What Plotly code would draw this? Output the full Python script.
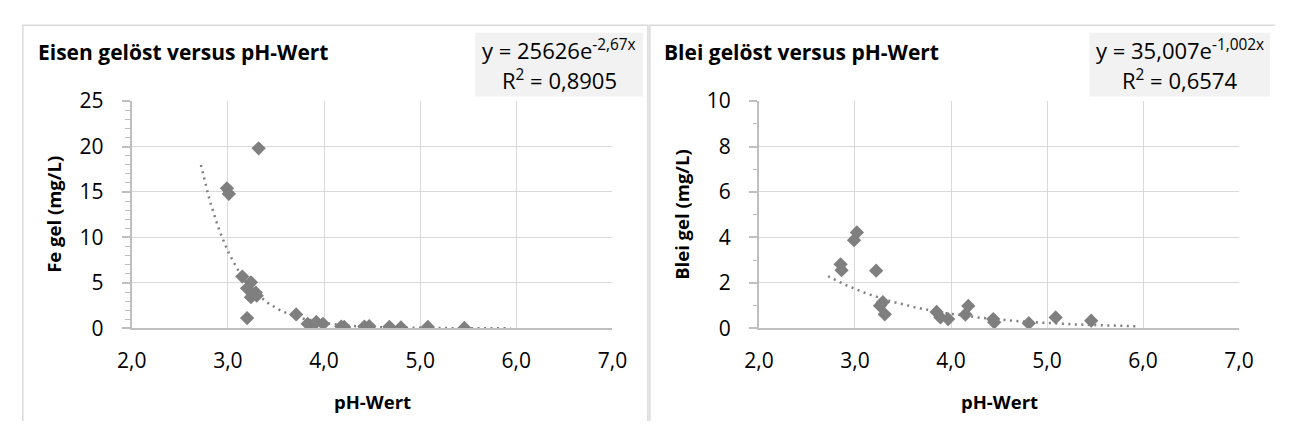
import numpy as np
import plotly.graph_objects as go

W, H = 1290, 434

# ---- data: Eisen (Fe) gelöst ----
fe_ph = [3.32, 2.99, 3.01, 3.15, 3.24, 3.20, 3.29, 3.24, 3.30, 3.20, 3.71,
         3.83, 3.86, 3.92, 3.99, 4.18, 4.21, 4.42, 4.47, 4.68, 4.80, 5.08, 5.46]
fe_mg = [19.8, 15.4, 14.8, 5.7, 5.07, 4.4, 3.94, 3.43, 3.6, 1.13, 1.54,
         0.5, 0.3, 0.7, 0.5, 0.2, 0.15, 0.2, 0.25, 0.17, 0.1, 0.15, 0.05]

# ---- data: Blei (Pb) gelöst ----
pb_ph = [2.85, 2.86, 3.02, 2.99, 3.22, 3.26, 3.29, 3.31, 3.85, 3.89, 3.97,
         4.18, 4.15, 4.44, 4.45, 4.81, 5.09, 5.46]
pb_mg = [2.82, 2.56, 4.22, 3.88, 2.54, 1.0, 1.15, 0.62, 0.72, 0.48, 0.41,
         0.99, 0.61, 0.41, 0.27, 0.23, 0.48, 0.34]

# exponential trend lines  y = a * exp(b * x)
fe_fit = dict(a=25626, b=-2.67, r2="0,8905", x0=2.72, x1=5.94)
pb_fit = dict(a=35.007, b=-1.002, r2="0,6574", x0=2.72, x1=5.93)

x_ticks = [2, 3, 4, 5, 6, 7]

FONT = "Open Sans"
MARK = "#7f7f7f"
GRID = "#d9d9d9"
AXIS = "#bfbfbf"


def px(x):
    return x / W


def py(y):
    return 1 - y / H


fig = go.Figure()

panels = [
    dict(ph=fe_ph, val=fe_mg, fit=fe_fit, xa="x", ya="y", yrange=[0, 25], ydt=5,
         title="Eisen gelöst versus pH-Wert", ytitle="Fe gel (mg/L)",
         eq="y = 25626e<sup>-2,67x</sup>",
         plot=(119.5, 611.7), frame=(8, 648), tx=22, box=(471, 643), ytx=40),
    dict(ph=pb_ph, val=pb_mg, fit=pb_fit, xa="x2", ya="y2", yrange=[0, 10], ydt=2,
         title="Blei gelöst versus pH-Wert", ytitle="Blei gel (mg/L)",
         eq="y = 35,007e<sup>-1,002x</sup>",
         plot=(761.7, 1253.2), frame=(650, None), tx=662, box=(1100, 1285), ytx=683),
]

top, bottom = 92, 335
shapes, annotations = [], []

for i, p in enumerate(panels):
    f = p["fit"]
    xs = np.linspace(f["x0"], f["x1"], 200)
    fig.add_trace(go.Scatter(
        x=xs, y=f["a"] * np.exp(f["b"] * xs), mode="lines",
        line=dict(color=MARK, width=2.5, dash="2px,4.5px"),
        xaxis=p["xa"], yaxis=p["ya"], hoverinfo="skip", showlegend=False))
    fig.add_trace(go.Scatter(
        x=p["ph"], y=p["val"], mode="markers",
        marker=dict(symbol="diamond", size=11, color=MARK, line=dict(width=0)),
        xaxis=p["xa"], yaxis=p["ya"], showlegend=False))

    n = "" if i == 0 else "2"
    ov = "3" if i == 0 else "4"
    xdom = [px(p["plot"][0]), px(p["plot"][1])]
    ydom = [py(bottom), py(top)]
    fig.update_layout(**{
        f"xaxis{n}": dict(
            domain=xdom, range=[2, 7], tickvals=x_ticks, tickformat=".1f",
            showgrid=True, gridcolor=GRID, gridwidth=1.3,
            showline=True, linecolor=AXIS, linewidth=1.8, ticks="",
            zeroline=False, anchor=f"y{n}",
            tickfont=dict(family=FONT, size=21, color="#000"),
            ticklabelstandoff=13,
        ),
        f"yaxis{n}": dict(
            domain=ydom, range=p["yrange"], dtick=p["ydt"],
            showgrid=True, gridcolor=GRID, gridwidth=1.3,
            showline=True, linecolor=AXIS, linewidth=1.8,
            ticks="outside", ticklen=8, tickcolor=AXIS, tickwidth=1.5,
            minor=dict(dtick=1, ticks="outside", ticklen=4.5, tickcolor=AXIS,
                       tickwidth=1.2, showgrid=False),
            zeroline=False, anchor=f"x{n}",
            tickfont=dict(family=FONT, size=21, color="#000"),
            ticklabelstandoff=14,
        ),
        # inner half of the crossing tick marks
        f"yaxis{ov}": dict(
            domain=ydom, range=p["yrange"], dtick=p["ydt"], overlaying=f"y{n}",
            anchor=f"x{n}", showgrid=False, showline=False, zeroline=False,
            showticklabels=False, ticks="inside", ticklen=6.5, tickcolor=AXIS,
            tickwidth=1.5,
            minor=dict(dtick=1, ticks="inside", ticklen=6.5, tickcolor=AXIS,
                       tickwidth=1.2, showgrid=False),
        ),
    })

    # chart frame (open at the bottom / right page edge)
    fx0 = px(p["frame"][0])
    ftop = py(11)
    if p["frame"][1] is not None:
        fx1 = px(p["frame"][1])
        path = f"M {fx0} 0 L {fx0} {ftop} L {fx1} {ftop} L {fx1} 0"
    else:
        path = f"M {fx0} 0 L {fx0} {ftop} L 1 {ftop}"
    shapes.append(dict(type="path", xref="paper", yref="paper", path=path,
                       line=dict(color=GRID, width=1.5), layer="below"))
    # equation box
    shapes.append(dict(type="rect", xref="paper", yref="paper",
                       x0=px(p["box"][0]), x1=px(p["box"][1]),
                       y0=py(87), y1=py(19),
                       line=dict(width=0), fillcolor="#f2f2f2", layer="below"))
    cx = px((p["box"][0] + p["box"][1]) / 2)
    annotations.append(dict(xref="paper", yref="paper", x=cx, y=py(37),
                            text=p["eq"], showarrow=False, xanchor="center",
                            yanchor="middle",
                            font=dict(family=FONT, size=22, color="#000")))
    annotations.append(dict(xref="paper", yref="paper", x=cx, y=py(69),
                            text=f"R<sup>2</sup> = {f['r2']}", showarrow=False,
                            xanchor="center", yanchor="middle",
                            font=dict(family=FONT, size=22, color="#000")))
    # chart title
    annotations.append(dict(xref="paper", yref="paper", x=px(p["tx"]), y=py(40),
                            text=p["title"], showarrow=False, xanchor="left",
                            yanchor="middle",
                            font=dict(family=FONT, size=21, color="#000",
                                      weight="bold")))
    # axis titles
    annotations.append(dict(xref="paper", yref="paper",
                            x=px((p["plot"][0] + p["plot"][1]) / 2), y=py(413),
                            text="pH-Wert", showarrow=False, xanchor="center",
                            yanchor="middle",
                            font=dict(family=FONT, size=18.5, color="#000",
                                      weight="bold")))
    annotations.append(dict(xref="paper", yref="paper",
                            x=px(p["ytx"]), y=py((top + bottom) / 2),
                            text=p["ytitle"], showarrow=False, textangle=-90,
                            xanchor="center", yanchor="middle",
                            font=dict(family=FONT, size=18.5, color="#000",
                                      weight="bold")))

fig.update_layout(
    width=W, height=H, margin=dict(l=0, r=0, t=0, b=0),
    paper_bgcolor="white", plot_bgcolor="white",
    separators=",.", shapes=shapes, annotations=annotations,
    showlegend=False,
)

fig.write_html("out.html")
